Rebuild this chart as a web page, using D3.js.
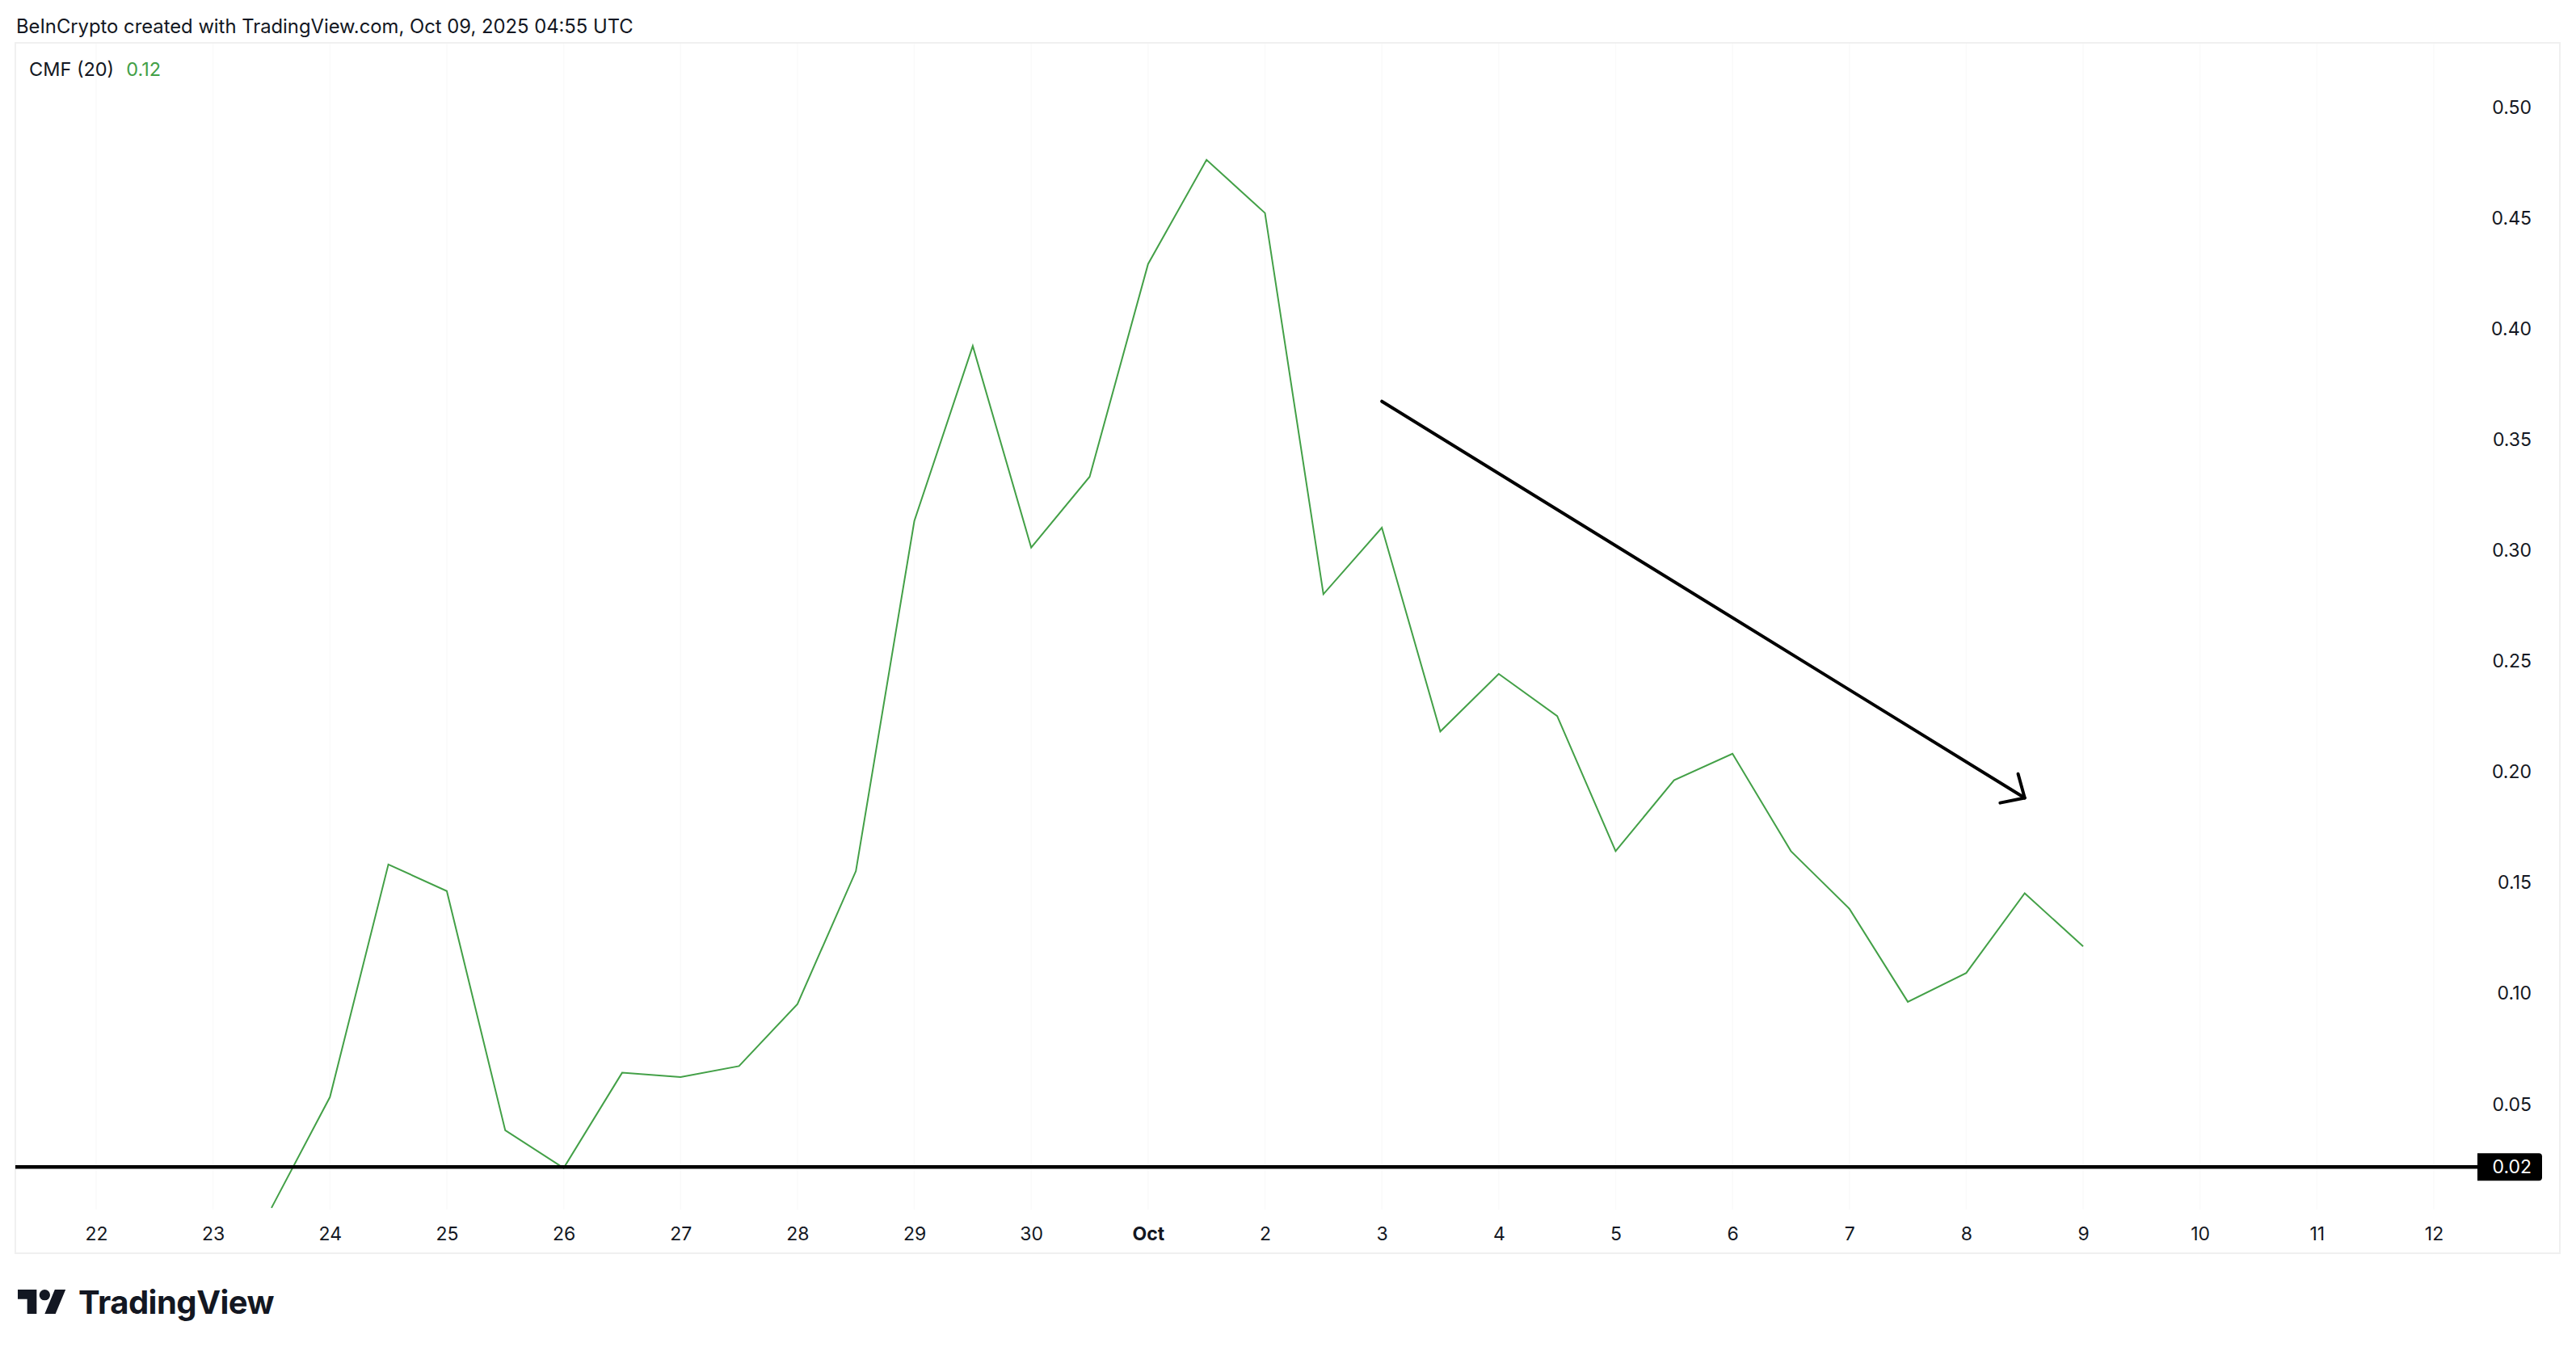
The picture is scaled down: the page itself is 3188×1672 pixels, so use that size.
<!DOCTYPE html>
<html>
<head>
<meta charset="utf-8">
<script src="https://cdn.jsdelivr.net/npm/d3@7"></script>
<style>
  html, body { margin: 0; padding: 0; background: #ffffff; }
  svg { display: block; }
</style>
</head>
<body>
<svg id="chart" width="3188" height="1672"></svg>
<script>
// ---------- DATA ----------
const times = [
  "2025-09-23T12:00Z","2025-09-24T00:00Z","2025-09-24T12:00Z","2025-09-25T00:00Z","2025-09-25T12:00Z",
  "2025-09-26T00:00Z","2025-09-26T12:00Z","2025-09-27T00:00Z","2025-09-27T12:00Z","2025-09-28T00:00Z",
  "2025-09-28T12:00Z","2025-09-29T00:00Z","2025-09-29T12:00Z","2025-09-30T00:00Z","2025-09-30T12:00Z",
  "2025-10-01T00:00Z","2025-10-01T12:00Z","2025-10-02T00:00Z","2025-10-02T12:00Z","2025-10-03T00:00Z",
  "2025-10-03T12:00Z","2025-10-04T00:00Z","2025-10-04T12:00Z","2025-10-05T00:00Z","2025-10-05T12:00Z",
  "2025-10-06T00:00Z","2025-10-06T12:00Z","2025-10-07T00:00Z","2025-10-07T12:00Z","2025-10-08T00:00Z",
  "2025-10-08T12:00Z","2025-10-09T00:00Z"
];
const cmfValues = [
  0.003, 0.053, 0.158, 0.146, 0.038,
  0.021, 0.064, 0.062, 0.067, 0.095,
  0.155, 0.313, 0.392, 0.301, 0.333,
  0.429, 0.476, 0.452, 0.280, 0.310,
  0.218, 0.244, 0.225, 0.164, 0.196,
  0.208, 0.164, 0.138, 0.096, 0.109,
  0.145, 0.121
];
const yTicks = [0.05, 0.10, 0.15, 0.20, 0.25, 0.30, 0.35, 0.40, 0.45, 0.50];
const xTickDates = [
  "2025-09-22","2025-09-23","2025-09-24","2025-09-25","2025-09-26","2025-09-27","2025-09-28",
  "2025-09-29","2025-09-30","2025-10-01","2025-10-02","2025-10-03","2025-10-04","2025-10-05",
  "2025-10-06","2025-10-07","2025-10-08","2025-10-09","2025-10-10","2025-10-11","2025-10-12"
];
const xTickLabels = ["22","23","24","25","26","27","28","29","30","Oct","2","3","4","5","6","7","8","9","10","11","12"];
const hLineValue = 0.0215;        // horizontal drawn level
const hLineLabel = "0.02";
const arrowStart = { t: "2025-10-03T00:00Z", v: 0.367 };
const arrowEnd   = { t: "2025-10-08T12:00Z", v: 0.188 };
const headerText = "BeInCrypto created with TradingView.com, Oct 09, 2025 04:55 UTC";
const legendName = "CMF (20)";
const legendValue = "0.12";

// ---------- LAYOUT ----------
const W = 3188, H = 1672;
const frame = { x0: 19, y0: 53, x1: 3168, y1: 1551 };
const paneBottom = 1497;
const FONT = "Inter, 'Noto Sans', Roboto, sans-serif";
const TEXT = "#131722";
const GREEN = "#43a047";

const svg = d3.select("#chart");
svg.append("rect").attr("width", W).attr("height", H).attr("fill", "#ffffff");

// scales
const x = d3.scaleUtc()
  .domain([new Date("2025-09-22T00:00Z"), new Date("2025-10-12T00:00Z")])
  .range([119, 3012]);
const y = d3.scaleLinear().domain([0.05, 0.50]).range([1366, 132]);

const xParsed = xTickDates.map(d => new Date(d + "T00:00Z"));

// faint vertical grid lines
svg.append("g").selectAll("line").data(xParsed).join("line")
  .attr("x1", d => x(d)).attr("x2", d => x(d))
  .attr("y1", frame.y0).attr("y2", paneBottom)
  .attr("stroke", "#fafafa").attr("stroke-width", 1.5);

// frame
svg.append("rect")
  .attr("x", frame.x0).attr("y", frame.y0)
  .attr("width", frame.x1 - frame.x0).attr("height", frame.y1 - frame.y0)
  .attr("fill", "none").attr("stroke", "#f0f0f0").attr("stroke-width", 2);

// clip for pane
svg.append("clipPath").attr("id", "pane")
  .append("rect").attr("x", frame.x0).attr("y", frame.y0)
  .attr("width", 3050 - frame.x0).attr("height", paneBottom - frame.y0 + 4);

// header
svg.append("text")
  .attr("x", 20).attr("y", 41)
  .attr("font-family", FONT).attr("font-size", 23.8).attr("fill", TEXT)
  .text(headerText);

// legend
const leg = svg.append("text").attr("x", 36).attr("y", 94)
  .attr("font-family", FONT).attr("font-size", 23.5).attr("fill", TEXT);
leg.append("tspan").text(legendName);
leg.append("tspan").attr("dx", 15).attr("fill", GREEN).text(legendValue);

// y axis (right)
const yAxis = d3.axisRight(y).tickValues(yTicks).tickFormat(d3.format(".2f")).tickSize(0).tickPadding(0);
const yg = svg.append("g").attr("transform", "translate(3133,0)").call(yAxis);
yg.select(".domain").remove();
yg.selectAll("text")
  .attr("text-anchor", "end").attr("x", 0)
  .attr("font-family", FONT).attr("font-size", 23).attr("fill", TEXT)
  .attr("dy", "0.35em");

// x axis (bottom)
const xAxis = d3.axisBottom(x).tickValues(xParsed)
  .tickFormat((d, i) => xTickLabels[i]).tickSize(0).tickPadding(0);
const xg = svg.append("g").attr("transform", "translate(0,1527)").call(xAxis);
xg.select(".domain").remove();
xg.selectAll("text")
  .attr("y", 0).attr("dy", "0.35em")
  .attr("font-family", FONT).attr("font-size", 23).attr("fill", TEXT)
  .attr("font-weight", (d, i) => xTickLabels[i] === "Oct" ? 700 : 400);

// data line
const series = times.map((t, i) => ({ t: new Date(t), v: cmfValues[i] }));
const line = d3.line().x(d => x(d.t)).y(d => y(d.v));
svg.append("g").attr("clip-path", "url(#pane)")
  .append("path").datum(series)
  .attr("d", line)
  .attr("fill", "none").attr("stroke", GREEN).attr("stroke-width", 2)
  .attr("stroke-linejoin", "miter");

// horizontal level line
const hy = y(hLineValue);
svg.append("line")
  .attr("x1", frame.x0).attr("x2", 3066)
  .attr("y1", hy).attr("y2", hy)
  .attr("stroke", "#000000").attr("stroke-width", 4.5);

// level label box (square left edge, rounded right edge)
const bx0 = 3066, bx1 = 3146, by0 = hy - 17, by1 = hy + 17, r = 4;
svg.append("path")
  .attr("d", `M${bx0},${by0}H${bx1 - r}Q${bx1},${by0} ${bx1},${by0 + r}V${by1 - r}Q${bx1},${by1} ${bx1 - r},${by1}H${bx0}Z`)
  .attr("fill", "#000000");
svg.append("text")
  .attr("x", 3133).attr("y", hy).attr("dy", "0.35em")
  .attr("text-anchor", "end")
  .attr("font-family", FONT).attr("font-size", 23).attr("fill", "#ffffff")
  .text(hLineLabel);

// arrow annotation
const ax0 = x(new Date(arrowStart.t)), ay0 = y(arrowStart.v);
const ax1 = x(new Date(arrowEnd.t)), ay1 = y(arrowEnd.v);
const ang = Math.atan2(ay1 - ay0, ax1 - ax0);
const headLen = 31, headAng = 43 * Math.PI / 180;
const arrowG = svg.append("g").attr("stroke", "#000000").attr("stroke-width", 4)
  .attr("stroke-linecap", "round").attr("fill", "none");
arrowG.append("line").attr("x1", ax0).attr("y1", ay0).attr("x2", ax1).attr("y2", ay1);
arrowG.append("path").attr("d",
  `M${ax1 - headLen * Math.cos(ang - headAng)},${ay1 - headLen * Math.sin(ang - headAng)}` +
  `L${ax1},${ay1}` +
  `L${ax1 - headLen * Math.cos(ang + headAng)},${ay1 - headLen * Math.sin(ang + headAng)}`)
  .attr("stroke-linejoin", "round");

// TradingView logo
const s = 30 / 18;
const logo = svg.append("g").attr("transform", `translate(22,${1596 - 4 * s}) scale(${s})`).attr("fill", "#131722");
logo.append("path").attr("d", "M14 22H7V11H0V4h14v18zM28 22h-8l7.5-18h8L28 22z");
logo.append("circle").attr("cx", 20).attr("cy", 8).attr("r", 4);
svg.append("text")
  .attr("x", 97).attr("y", 1626)
  .attr("font-family", FONT).attr("font-size", 40).attr("font-weight", 700)
  .attr("letter-spacing", -0.5).attr("fill", "#131722")
  .text("TradingView");
</script>
</body>
</html>
